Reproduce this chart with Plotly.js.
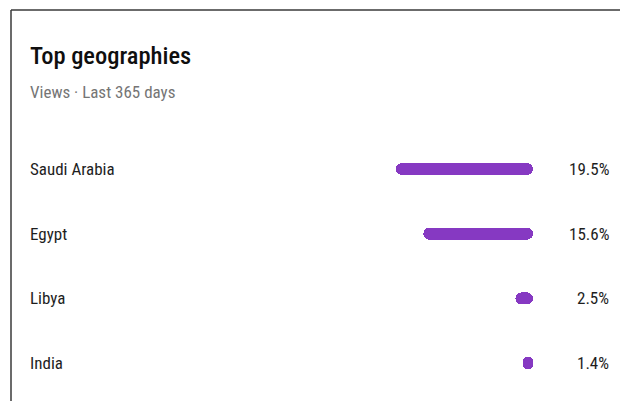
<!DOCTYPE html>
<html>
<head>
<meta charset="utf-8">
<script src="https://cdn.plot.ly/plotly-3.0.1.min.js"></script>
<style>html,body{margin:0;padding:0;background:#fff;}#chart{width:620px;height:401px;}</style>
</head>
<body>
<div id="chart"></div>
<script>
const countries = ["Saudi Arabia", "Egypt", "Libya", "India"];
const viewShare = [19.5, 15.6, 2.5, 1.4];
const shareLabels = ["19.5%", "15.6%", "2.5%", "1.4%"];
const titleText = "Top geographies";
const subtitleText = "Views · Last 365 days";

const FONT = "'Roboto Condensed', Roboto, sans-serif";
const barColor = "#8639c2";
const W = 620, H = 401;
const pxPerUnit = 7.03;
const zeroPx = 533;
const xRange = [zeroPx / pxPerUnit, -(W - zeroPx) / pxPerUnit];
const rowPx = 64.7, firstRowPx = 169;
const yRange = [(H - firstRowPx) / rowPx, -firstRowPx / rowPx];
const barW = 12 / rowPx;

const traces = [
  {
    type: "bar", orientation: "h", x: viewShare, y: countries, base: 0,
    width: barW, marker: {color: barColor, cornerradius: "50%"},
    hoverinfo: "skip", showlegend: false
  },
  {
    type: "bar", orientation: "h", x: viewShare.map(v => -v), y: countries, base: viewShare,
    width: barW, marker: {color: barColor, cornerradius: "50%"},
    hoverinfo: "skip", showlegend: false
  }
];

const annotations = [];
countries.forEach((c, i) => {
  annotations.push({
    xref: "paper", yref: "y", x: 28 / W, y: c, text: c, showarrow: false,
    xanchor: "left", yanchor: "middle",
    font: {family: FONT, size: 17, color: "#1e1e1e"}
  });
  annotations.push({
    xref: "paper", yref: "y", x: 611 / W, y: c, text: shareLabels[i], showarrow: false,
    xanchor: "right", yanchor: "middle",
    font: {family: FONT, size: 17, color: "#1e1e1e"}
  });
});
annotations.push({
  xref: "paper", yref: "paper", x: 28 / W, y: 1 - 92 / H, text: subtitleText, showarrow: false,
  xanchor: "left", yanchor: "middle",
  font: {family: FONT, size: 17, color: "#757575"}
});

const layout = {
  width: W, height: H,
  margin: {l: 0, r: 0, t: 0, b: 0, pad: 0},
  paper_bgcolor: "#ffffff", plot_bgcolor: "#ffffff",
  title: {
    text: titleText, x: 30 / W, xanchor: "left", xref: "paper",
    y: 1 - 55 / H, yanchor: "middle", yref: "container",
    font: {family: FONT, size: 24.5, color: "#0f0f0f", weight: 500}
  },
  barmode: "overlay",
  bargap: 0,
  xaxis: {range: xRange, showgrid: false, zeroline: false, showticklabels: false, ticks: "", fixedrange: true},
  yaxis: {type: "category", range: yRange, showgrid: false, zeroline: false, showticklabels: false, ticks: "", fixedrange: true},
  annotations: annotations,
  shapes: [
    {type: "line", xref: "paper", yref: "paper", x0: 11 / W, x1: 1, y0: 1 - 10 / H, y1: 1 - 10 / H, line: {color: "#3a3a3a", width: 1.5}},
    {type: "line", xref: "paper", yref: "paper", x0: 11 / W, x1: 11 / W, y0: 0, y1: 1 - 10 / H, line: {color: "#3a3a3a", width: 1.5}}
  ],
  hovermode: false,
  showlegend: false
};

Plotly.newPlot("chart", traces, layout, {displayModeBar: false, staticPlot: true});
</script>
</body>
</html>
